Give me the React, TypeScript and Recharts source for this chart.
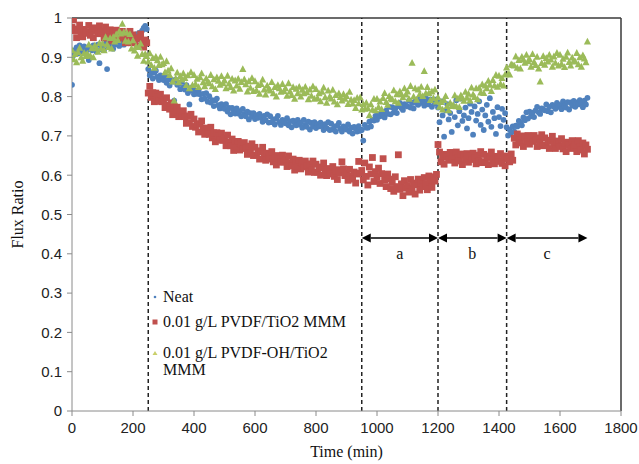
import React from 'react';
import { ScatterChart, Scatter, XAxis, YAxis, ReferenceLine, Legend, Label } from 'recharts';

// Sampling interval of the readings (minutes)
const STEP_MIN = 5;

// Flux ratio readings, one every 5 min from t = 0
const neat = [
  0.83, 0.905, 0.918, 0.925, 0.91, 0.93, 0.915, 0.922, 0.928, 0.912,
  0.92, 0.893, 0.926, 0.918, 0.93, 0.924, 0.915, 0.932, 0.885, 0.921,
  0.928, 0.919, 0.935, 0.87, 0.927, 0.938, 0.93, 0.922, 0.941, 0.933,
  0.936, 0.929, 0.944, 0.938, 0.932, 0.947, 0.941, 0.95, 0.943, 0.955,
  0.948, 0.952, 0.958, 0.945, 0.962, 0.955, 0.968, 0.975, 0.98, 0.972,
  0.870, 0.854, 0.861, 0.846, 0.861, 0.866, 0.850, 0.842, 0.854, 0.847,
  0.842, 0.854, 0.835, 0.844, 0.828, 0.844, 0.838, 0.790, 0.843, 0.830,
  0.833, 0.819, 0.838, 0.824, 0.818, 0.829, 0.809, 0.780, 0.815, 0.824,
  0.806, 0.815, 0.807, 0.816, 0.806, 0.793, 0.807, 0.795, 0.809, 0.787,
  0.801, 0.785, 0.791, 0.776, 0.790, 0.795, 0.778, 0.770, 0.781, 0.774,
  0.769, 0.781, 0.762, 0.771, 0.755, 0.771, 0.765, 0.757, 0.770, 0.757,
  0.763, 0.750, 0.769, 0.756, 0.750, 0.762, 0.742, 0.758, 0.749, 0.758,
  0.743, 0.753, 0.746, 0.756, 0.747, 0.736, 0.751, 0.740, 0.755, 0.734,
  0.750, 0.735, 0.742, 0.729, 0.744, 0.751, 0.735, 0.728, 0.741, 0.735,
  0.732, 0.745, 0.727, 0.737, 0.722, 0.739, 0.734, 0.727, 0.741, 0.729,
  0.734, 0.721, 0.741, 0.728, 0.723, 0.736, 0.716, 0.733, 0.724, 0.735,
  0.720, 0.730, 0.724, 0.734, 0.726, 0.715, 0.730, 0.720, 0.735, 0.715,
  0.731, 0.716, 0.724, 0.711, 0.726, 0.733, 0.718, 0.711, 0.724, 0.719,
  0.716, 0.729, 0.711, 0.721, 0.706, 0.723, 0.718, 0.711, 0.725, 0.713,
  0.715, 0.688, 0.728, 0.721, 0.721, 0.736, 0.724, 0.741, 0.739, 0.751,
  0.741, 0.754, 0.750, 0.762, 0.756, 0.747, 0.764, 0.756, 0.774, 0.755,
  0.773, 0.760, 0.770, 0.758, 0.776, 0.784, 0.771, 0.766, 0.781, 0.777,
  0.775, 0.790, 0.772, 0.784, 0.770, 0.788, 0.784, 0.779, 0.794, 0.784,
  0.789, 0.777, 0.797, 0.785, 0.780, 0.793, 0.774, 0.790, 0.782, 0.793,
  0.772, 0.735, 0.788, 0.752, 0.698, 0.765, 0.781, 0.742, 0.758, 0.710,
  0.776, 0.748, 0.791, 0.727, 0.763, 0.795, 0.738, 0.752, 0.772, 0.719,
  0.745, 0.782, 0.761, 0.703, 0.775, 0.739, 0.756, 0.788, 0.728, 0.767,
  0.715, 0.752, 0.779, 0.736, 0.796, 0.723, 0.761, 0.745, 0.705, 0.773,
  0.748, 0.725, 0.769, 0.741, 0.758, 0.722, 0.701, 0.716, 0.708, 0.724,
  0.711, 0.726, 0.724, 0.738, 0.734, 0.727, 0.747, 0.740, 0.760, 0.744,
  0.762, 0.750, 0.759, 0.748, 0.765, 0.774, 0.760, 0.756, 0.770, 0.767,
  0.765, 0.780, 0.763, 0.774, 0.760, 0.779, 0.775, 0.769, 0.784, 0.774,
  0.779, 0.768, 0.788, 0.777, 0.772, 0.786, 0.767, 0.785, 0.777, 0.789,
  0.774, 0.785, 0.780, 0.791, 0.784, 0.773, 0.790, 0.780, 0.797,
];

const pvdfTiO2 = [
  0.976, 0.995, 0.968, 0.950, 0.972, 0.982, 0.961, 0.952, 0.971, 0.964,
  0.961, 0.981, 0.956, 0.971, 0.950, 0.975, 0.968, 0.960, 0.980, 0.964,
  0.966, 0.949, 0.977, 0.961, 0.953, 0.970, 0.942, 0.966, 0.954, 0.969,
  0.945, 0.960, 0.951, 0.966, 0.952, 0.937, 0.958, 0.943, 0.966, 0.937,
  0.957, 0.937, 0.948, 0.929, 0.950, 0.959, 0.937, 0.926, 0.944, 0.937,
  0.809, 0.826, 0.798, 0.810, 0.787, 0.809, 0.799, 0.788, 0.806, 0.787,
  0.792, 0.772, 0.797, 0.778, 0.768, 0.784, 0.754, 0.775, 0.761, 0.773,
  0.749, 0.762, 0.751, 0.764, 0.749, 0.732, 0.751, 0.734, 0.755, 0.724,
  0.743, 0.722, 0.731, 0.710, 0.730, 0.738, 0.715, 0.704, 0.720, 0.711,
  0.704, 0.722, 0.695, 0.708, 0.685, 0.708, 0.699, 0.689, 0.707, 0.689,
  0.694, 0.675, 0.702, 0.684, 0.675, 0.692, 0.663, 0.686, 0.673, 0.686,
  0.664, 0.679, 0.668, 0.683, 0.669, 0.653, 0.674, 0.658, 0.680, 0.650,
  0.671, 0.651, 0.660, 0.641, 0.662, 0.671, 0.648, 0.638, 0.656, 0.647,
  0.641, 0.660, 0.634, 0.648, 0.626, 0.650, 0.642, 0.633, 0.651, 0.634,
  0.640, 0.622, 0.649, 0.632, 0.624, 0.641, 0.613, 0.636, 0.624, 0.638,
  0.616, 0.631, 0.621, 0.636, 0.623, 0.608, 0.629, 0.614, 0.636, 0.607,
  0.628, 0.608, 0.619, 0.600, 0.621, 0.631, 0.609, 0.599, 0.617, 0.609,
  0.603, 0.622, 0.597, 0.611, 0.589, 0.614, 0.606, 0.634, 0.616, 0.599,
  0.605, 0.587, 0.615, 0.598, 0.590, 0.608, 0.580, 0.603, 0.635, 0.605,
  0.612, 0.588, 0.631, 0.597, 0.575, 0.621, 0.603, 0.645, 0.584, 0.609,
  0.596, 0.618, 0.579, 0.604, 0.642, 0.588, 0.571, 0.603, 0.590, 0.566,
  0.582, 0.559, 0.596, 0.571, 0.652, 0.564, 0.578, 0.548, 0.586, 0.567,
  0.573, 0.557, 0.589, 0.566, 0.580, 0.552, 0.576, 0.590, 0.562, 0.581,
  0.571, 0.594, 0.578, 0.563, 0.598, 0.582, 0.569, 0.596, 0.585, 0.602,
  0.678, 0.659, 0.634, 0.649, 0.628, 0.653, 0.646, 0.638, 0.658, 0.642,
  0.648, 0.631, 0.659, 0.643, 0.636, 0.654, 0.627, 0.651, 0.640, 0.655,
  0.633, 0.649, 0.640, 0.656, 0.644, 0.629, 0.651, 0.637, 0.660, 0.632,
  0.653, 0.634, 0.645, 0.627, 0.649, 0.659, 0.638, 0.629, 0.648, 0.641,
  0.635, 0.655, 0.630, 0.645, 0.624, 0.649, 0.642, 0.634, 0.654, 0.638,
  0.694, 0.677, 0.705, 0.689, 0.682, 0.700, 0.673, 0.697, 0.686, 0.701,
  0.679, 0.695, 0.686, 0.701, 0.689, 0.673, 0.695, 0.681, 0.703, 0.675,
  0.695, 0.676, 0.686, 0.668, 0.689, 0.699, 0.677, 0.668, 0.687, 0.679,
  0.673, 0.693, 0.667, 0.681, 0.660, 0.684, 0.676, 0.668, 0.688, 0.671,
  0.677, 0.660, 0.688, 0.671, 0.664, 0.682, 0.654, 0.677, 0.666,
];

const pvdfOhTiO2 = [
  0.918, 0.895, 0.908, 0.887, 0.913, 0.924, 0.900, 0.891, 0.911, 0.903,
  0.909, 0.932, 0.904, 0.923, 0.900, 0.930, 0.923, 0.914, 0.936, 0.922,
  0.935, 0.918, 0.951, 0.933, 0.926, 0.949, 0.922, 0.951, 0.940, 0.958,
  0.944, 0.966, 0.960, 0.985, 0.964, 0.942, 0.962, 0.940, 0.959, 0.922,
  0.943, 0.917, 0.928, 0.904, 0.926, 0.935, 0.908, 0.891, 0.908, 0.903,
  0.889, 0.910, 0.880, 0.898, 0.873, 0.901, 0.892, 0.880, 0.901, 0.882,
  0.885, 0.862, 0.890, 0.866, 0.855, 0.872, 0.838, 0.790, 0.846, 0.861,
  0.836, 0.852, 0.843, 0.859, 0.847, 0.829, 0.854, 0.821, 0.862, 0.829,
  0.855, 0.832, 0.845, 0.824, 0.849, 0.859, 0.836, 0.826, 0.846, 0.838,
  0.834, 0.855, 0.826, 0.844, 0.819, 0.849, 0.840, 0.830, 0.852, 0.834,
  0.841, 0.821, 0.853, 0.833, 0.824, 0.845, 0.815, 0.841, 0.828, 0.845,
  0.820, 0.837, 0.870, 0.844, 0.831, 0.813, 0.839, 0.822, 0.847, 0.814,
  0.839, 0.816, 0.829, 0.807, 0.832, 0.843, 0.818, 0.805, 0.828, 0.820,
  0.815, 0.837, 0.808, 0.824, 0.800, 0.829, 0.821, 0.812, 0.832, 0.814,
  0.821, 0.802, 0.834, 0.813, 0.804, 0.824, 0.794, 0.820, 0.808, 0.825,
  0.800, 0.817, 0.808, 0.825, 0.811, 0.793, 0.818, 0.802, 0.826, 0.794,
  0.819, 0.796, 0.808, 0.788, 0.812, 0.823, 0.798, 0.784, 0.815, 0.800,
  0.795, 0.817, 0.787, 0.804, 0.780, 0.808, 0.799, 0.790, 0.806, 0.794,
  0.801, 0.781, 0.812, 0.792, 0.782, 0.791, 0.771, 0.797, 0.783, 0.798,
  0.767, 0.781, 0.769, 0.784, 0.770, 0.752, 0.780, 0.766, 0.794, 0.765,
  0.794, 0.773, 0.787, 0.768, 0.796, 0.809, 0.786, 0.779, 0.801, 0.795,
  0.793, 0.816, 0.788, 0.806, 0.784, 0.813, 0.806, 0.798, 0.821, 0.805,
  0.813, 0.794, 0.827, 0.886, 0.800, 0.821, 0.792, 0.818, 0.806, 0.825,
  0.801, 0.865, 0.808, 0.824, 0.809, 0.791, 0.813, 0.796, 0.818, 0.787,
  0.798, 0.774, 0.786, 0.767, 0.791, 0.801, 0.776, 0.765, 0.784, 0.776,
  0.779, 0.803, 0.775, 0.795, 0.773, 0.803, 0.797, 0.789, 0.812, 0.797,
  0.807, 0.790, 0.823, 0.805, 0.799, 0.821, 0.793, 0.822, 0.810, 0.831,
  0.809, 0.828, 0.821, 0.840, 0.830, 0.814, 0.842, 0.828, 0.855, 0.825,
  0.853, 0.832, 0.847, 0.828, 0.856, 0.874, 0.857, 0.856, 0.882, 0.880,
  0.879, 0.902, 0.873, 0.893, 0.871, 0.901, 0.894, 0.886, 0.906, 0.890,
  0.895, 0.876, 0.908, 0.888, 0.880, 0.901, 0.871, 0.838, 0.885, 0.903,
  0.881, 0.898, 0.889, 0.906, 0.894, 0.876, 0.902, 0.886, 0.911, 0.879,
  0.906, 0.883, 0.896, 0.875, 0.901, 0.912, 0.888, 0.879, 0.899, 0.891,
  0.889, 0.911, 0.882, 0.900, 0.876, 0.905, 0.897, 0.887, 0.940,
];

const seriesNames = ['Neat', '0.01 g/L PVDF/TiO2 MMM', '0.01 g/L PVDF-OH/TiO2 MMM'];
const xTicks = [0, 200, 400, 600, 800, 1000, 1200, 1400, 1600, 1800];
const yTicks = [0, 0.1, 0.2, 0.3, 0.4, 0.5, 0.6, 0.7, 0.8, 0.9, 1];
const phaseBoundaries = [250, 950, 1200, 1425];
const phaseArrows = [
  { from: 950, to: 1200, label: 'a' },
  { from: 1200, to: 1425, label: 'b' },
  { from: 1425, to: 1690, label: 'c' },
];
const arrowLevel = 0.44;

const BLUE = '#4F81BD';
const RED = '#C0504D';
const GREEN = '#9BBB59';
const SERIF = '"Liberation Serif", "Times New Roman", serif';
const SANS = '"Liberation Sans", Arial, sans-serif';

const toPoints = (vals: number[]) => vals.map((v, i) => ({ t: i * STEP_MIN, v }));

const BlueDot = (p: any) => <circle cx={p.cx} cy={p.cy} r={2.9} fill={BLUE} />;
const RedSquare = (p: any) => <rect x={p.cx - 3.4} y={p.cy - 3.4} width={6.8} height={6.8} fill={RED} />;
const GreenTri = (p: any) => (
  <polygon
    points={`${p.cx},${p.cy - 3.9} ${p.cx - 3.6},${p.cy + 2.9} ${p.cx + 3.6},${p.cy + 2.9}`}
    fill={GREEN}
  />
);

const ArrowShape = (props: any) => {
  const { x1, y1, x2, y2, text } = props;
  const h = 9;
  const w = 4.5;
  return (
    <g>
      <line x1={x1 + h} y1={y1} x2={x2 - h} y2={y2} stroke="#000" strokeWidth={1.5} />
      <polygon points={`${x1},${y1} ${x1 + h},${y1 - w} ${x1 + h},${y1 + w}`} fill="#000" />
      <polygon points={`${x2},${y2} ${x2 - h},${y2 - w} ${x2 - h},${y2 + w}`} fill="#000" />
      <text x={(x1 + x2) / 2} y={y1 + 21} textAnchor="middle" fontFamily={SERIF} fontSize={16} fill="#111">
        {text}
      </text>
    </g>
  );
};

const XTitle = (props: any) => {
  const vb = props.viewBox || {};
  return (
    <text x={vb.x + vb.width / 2} y={vb.y + 46} textAnchor="middle" fontFamily={SERIF} fontSize={16} fill="#111">
      Time (min)
    </text>
  );
};

const YTitle = (props: any) => {
  const vb = props.viewBox || {};
  const x = vb.x + 9;
  const y = vb.y + vb.height / 2;
  return (
    <text x={x} y={y} transform={`rotate(-90, ${x}, ${y})`} textAnchor="middle" fontFamily={SERIF} fontSize={16} fill="#111">
      Flux Ratio
    </text>
  );
};

const LegendBox = () => {
  const row: React.CSSProperties = { position: 'absolute', left: 0, display: 'flex', alignItems: 'center' };
  const txt: React.CSSProperties = { fontFamily: SERIF, fontSize: 16, color: '#111', lineHeight: '17px', marginLeft: 5, whiteSpace: 'nowrap' };
  return (
    <div style={{ position: 'relative', width: 260, height: 100 }}>
      <div style={{ ...row, top: 0 }}>
        <svg width={6} height={6}><circle cx={3} cy={3} r={1.3} fill={BLUE} /></svg>
        <span style={txt}>{seriesNames[0]}</span>
      </div>
      <div style={{ ...row, top: 25 }}>
        <svg width={6} height={6}><rect x={0.5} y={0.5} width={5} height={5} fill={RED} /></svg>
        <span style={txt}>{seriesNames[1]}</span>
      </div>
      <div style={{ ...row, top: 56, alignItems: 'flex-start' }}>
        <svg width={6} height={6} style={{ marginTop: 6 }}><polygon points="3,1 0.5,5 5.5,5" fill="#c9cf6a" /></svg>
        <span style={txt}>0.01 g/L PVDF-OH/TiO2<br />MMM</span>
      </div>
    </div>
  );
};

export default function App() {
  return (
    <div style={{ position: 'absolute', left: 0, top: 0, width: 639, height: 464 }}>
      <ScatterChart width={639} height={464} margin={{ top: 18, right: 18, left: 14, bottom: 3 }}>
        <XAxis
          type="number"
          dataKey="t"
          domain={[0, 1800]}
          ticks={xTicks}
          allowDataOverflow
          stroke="#8a8a8a"
          tickSize={5}
          tickMargin={6}
          height={50}
          tick={{ fill: '#222', fontFamily: SANS, fontSize: 15 }}
        >
          <Label content={XTitle} />
        </XAxis>
        <YAxis
          type="number"
          dataKey="v"
          domain={[0, 1]}
          ticks={yTicks}
          allowDataOverflow
          stroke="#8a8a8a"
          tickSize={5}
          tickMargin={5}
          width={58}
          tick={{ fill: '#222', fontFamily: SANS, fontSize: 15 }}
        >
          <Label content={YTitle} />
        </YAxis>
        <ReferenceLine y={1} stroke="#3a3a3a" strokeWidth={1.5} />
        <ReferenceLine x={1800} stroke="#3a3a3a" strokeWidth={1.5} />
        <Scatter name={seriesNames[0]} data={toPoints(neat)} shape={BlueDot} isAnimationActive={false} />
        <Scatter name={seriesNames[1]} data={toPoints(pvdfTiO2)} shape={RedSquare} isAnimationActive={false} />
        <Scatter name={seriesNames[2]} data={toPoints(pvdfOhTiO2)} shape={GreenTri} isAnimationActive={false} />
        {phaseBoundaries.map((b) => (
          <ReferenceLine key={b} x={b} stroke="#222" strokeWidth={1.5} strokeDasharray="4 3" />
        ))}
        {phaseArrows.map((a) => (
          <ReferenceLine
            key={a.label}
            segment={[{ x: a.from, y: arrowLevel }, { x: a.to, y: arrowLevel }]}
            shape={(p: any) => <ArrowShape {...p} text={a.label} />}
          />
        ))}
        <Legend
          layout="vertical"
          align="center"
          verticalAlign="middle"
          wrapperStyle={{ left: 152, top: 288, width: 260, height: 100 }}
          content={() => <LegendBox />}
        />
      </ScatterChart>
    </div>
  );
}
